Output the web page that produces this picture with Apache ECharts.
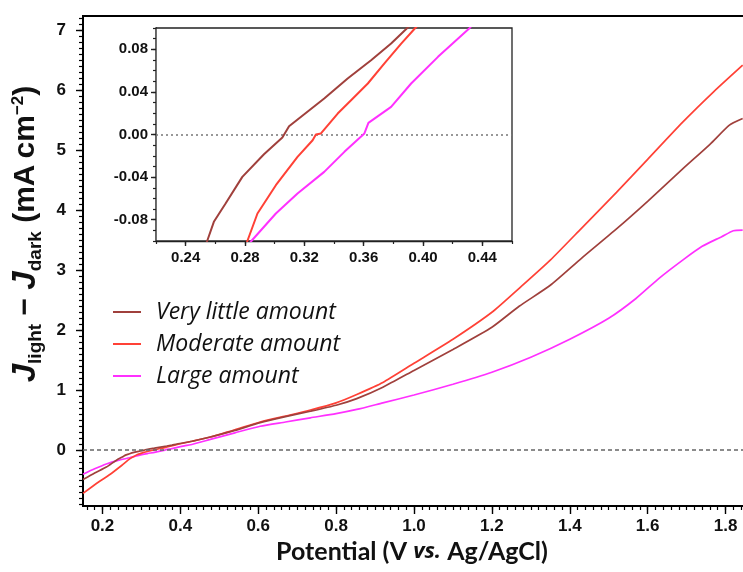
<!DOCTYPE html>
<html>
<head>
<meta charset="utf-8">
<script src="https://cdn.jsdelivr.net/npm/echarts@6/dist/echarts.min.js"></script>
<style>
  html, body { margin: 0; padding: 0; background: #fff; }
  #chart { width: 743px; height: 572px; }
</style>
</head>
<body>
<div id="chart"></div>
<script>
// Photocurrent (J_light - J_dark) vs. potential for three loadings
const seriesNames = ['Very little amount', 'Moderate amount', 'Large amount'];

const potentialVeryLittle = [0.15, 0.18, 0.21, 0.235, 0.2545, 0.259, 0.2669, 0.2782, 0.2928, 0.3052, 0.3097, 0.311, 0.3334, 0.3492, 0.365, 0.3785, 0.3894, 0.43, 0.477, 0.54, 0.605, 0.67, 0.734, 0.80, 0.853, 0.92, 1.0, 1.1, 1.2, 1.27, 1.35, 1.43, 1.52, 1.6, 1.69, 1.76, 1.81, 1.844];
const currentVeryLittle = [-0.49, -0.38, -0.28, -0.17, -0.10, -0.082, -0.0648, -0.0398, -0.0185, -0.0028, 0.0078, 0.008, 0.0338, 0.0526, 0.0698, 0.0854, 0.10, 0.15, 0.22, 0.33, 0.46, 0.56, 0.65, 0.75, 0.86, 1.05, 1.33, 1.68, 2.05, 2.4, 2.75, 3.2, 3.69, 4.15, 4.69, 5.1, 5.42, 5.53];

const potentialModerate = [0.15, 0.19, 0.22, 0.25, 0.27, 0.2816, 0.2884, 0.3008, 0.3154, 0.3256, 0.3278, 0.3312, 0.3425, 0.3515, 0.3628, 0.374, 0.3853, 0.3948, 0.43, 0.477, 0.54, 0.605, 0.67, 0.734, 0.80, 0.853, 0.92, 1.0, 1.1, 1.2, 1.27, 1.35, 1.43, 1.52, 1.6, 1.69, 1.77, 1.844];
const currentModerate = [-0.72, -0.53, -0.40, -0.25, -0.145, -0.10, -0.0742, -0.0476, -0.021, -0.0054, 0.0, 0.001, 0.0197, 0.0322, 0.0479, 0.0667, 0.0854, 0.10, 0.15, 0.22, 0.34, 0.47, 0.57, 0.67, 0.79, 0.93, 1.13, 1.45, 1.85, 2.3, 2.7, 3.17, 3.7, 4.30, 4.85, 5.47, 5.98, 6.42];

const potentialLarge = [0.15, 0.18, 0.21, 0.24, 0.27, 0.2843, 0.3008, 0.3154, 0.3334, 0.347, 0.3605, 0.3632, 0.3785, 0.392, 0.4101, 0.4315, 0.477, 0.54, 0.605, 0.67, 0.734, 0.80, 0.853, 0.92, 1.0, 1.1, 1.2, 1.3, 1.4, 1.5, 1.57, 1.63, 1.69, 1.74, 1.79, 1.82, 1.844];
const currentLarge = [-0.40, -0.31, -0.23, -0.17, -0.125, -0.10, -0.0742, -0.0554, -0.0351, -0.0163, 0.001, 0.0109, 0.0259, 0.0479, 0.0729, 0.10, 0.18, 0.29, 0.40, 0.47, 0.54, 0.61, 0.68, 0.79, 0.92, 1.1, 1.3, 1.55, 1.85, 2.2, 2.53, 2.87, 3.17, 3.4, 3.56, 3.66, 3.67];

// Tick labels
const mainXTicks = [0.2, 0.4, 0.6, 0.8, 1.0, 1.2, 1.4, 1.6, 1.8];
const mainYTicks = [0, 1, 2, 3, 4, 5, 6, 7];
const insetXTicks = [0.24, 0.28, 0.32, 0.36, 0.40, 0.44];
const insetYTicks = [-0.08, -0.04, 0.00, 0.04, 0.08];

const colors = ['#a0403c', '#ff4136', '#ff30ff'];

function range(a, b, div) {
  const out = [];
  for (let i = a; i <= b; i++) out.push(i / div);
  return out;
}
const mainXMinor = range(8, 92, 50);     // every 0.02
const mainYMinor = range(-9, 72, 10);    // every 0.1
const insetXMinor = range(11, 23, 50);   // every 0.02
const insetYMinor = range(-10, 10, 100); // every 0.01

function pairs(xs, ys) { return xs.map((x, i) => [x, ys[i]]); }
const dataSets = [
  pairs(potentialVeryLittle, currentVeryLittle),
  pairs(potentialModerate, currentModerate),
  pairs(potentialLarge, currentLarge)
];

const tickFont = { fontFamily: 'Liberation Sans', fontWeight: 'bold', color: '#111' };

function majorAxis(grid, min, max, ticks, fmt, size, tickLen, margin, lineW, lineColor) {
  return {
    type: 'value', gridIndex: grid, min: min, max: max,
    splitLine: { show: false },
    axisLine: { show: true, onZero: false, lineStyle: { color: lineColor, width: lineW } },
    axisTick: { show: true, inside: false, length: tickLen, customValues: ticks, lineStyle: { color: lineColor, width: 1.4 } },
    axisLabel: Object.assign({ show: true, customValues: ticks, formatter: fmt, fontSize: size, margin: margin }, tickFont)
  };
}
function minorAxis(grid, min, max, ticks, tickLen, lineColor) {
  return {
    type: 'value', gridIndex: grid, min: min, max: max,
    splitLine: { show: false },
    axisLine: { show: false, onZero: false },
    axisTick: { show: true, inside: false, length: tickLen, customValues: ticks, lineStyle: { color: lineColor, width: 1.2 } },
    axisLabel: { show: false }
  };
}

const xAxes = [
  Object.assign(majorAxis(0, 0.15, 1.85, mainXTicks, v => v.toFixed(1), 17, 8, 12, 2, '#000'), { position: 'bottom' }),
  Object.assign(minorAxis(0, 0.15, 1.85, mainXMinor, 4, '#000'), { position: 'bottom' }),
  Object.assign(majorAxis(1, 0.22, 0.46, insetXTicks, v => v.toFixed(2), 15, 5, 9, 1.3, '#222'), { position: 'bottom' }),
  Object.assign(minorAxis(1, 0.22, 0.46, insetXMinor, 3, '#222'), { position: 'bottom' })
];
const yAxes = [
  Object.assign(majorAxis(0, -0.93, 7.24, mainYTicks, v => String(Math.round(v)), 17, 7, 17, 2, '#000'), { position: 'left' }),
  Object.assign(minorAxis(0, -0.93, 7.24, mainYMinor, 4, '#000'), { position: 'left' }),
  Object.assign(majorAxis(1, -0.1, 0.1, insetYTicks, v => v.toFixed(2), 15, 5, 8, 1.3, '#222'), { position: 'left' }),
  Object.assign(minorAxis(1, -0.1, 0.1, insetYMinor, 3, '#222'), { position: 'left' })
];

const series = [];
dataSets.forEach((d, i) => {
  const main = {
    name: seriesNames[i], type: 'line', xAxisIndex: 0, yAxisIndex: 0,
    data: d, showSymbol: false, symbol: 'none', smooth: 0.2,
    lineStyle: { color: colors[i], width: 1.7 }, itemStyle: { color: colors[i] },
    z: 3 - i
  };
  if (i === 0) {
    main.markLine = {
      silent: true, symbol: 'none', animation: false,
      label: { show: false },
      lineStyle: { color: '#666', type: [4, 3], width: 1.5 },
      data: [{ yAxis: 0 }]
    };
  }
  series.push(main);
});
dataSets.forEach((d, i) => {
  const inset = {
    name: seriesNames[i], type: 'line', xAxisIndex: 2, yAxisIndex: 2,
    data: d, showSymbol: false, symbol: 'none', smooth: false, clip: true,
    lineStyle: { color: colors[i], width: 2 }, itemStyle: { color: colors[i] },
    z: 10
  };
  if (i === 0) {
    inset.markLine = {
      silent: true, symbol: 'none', animation: false,
      label: { show: false },
      lineStyle: { color: '#777', type: [2, 3], width: 1.5 },
      data: [{ yAxis: 0 }]
    };
  }
  series.push(inset);
});

const chart = echarts.init(document.getElementById('chart'), null, { renderer: 'canvas' });
chart.setOption({
  animation: false,
  backgroundColor: '#fff',
  grid: [
    { left: 83, top: 16, width: 662, height: 490, show: true, borderColor: '#000', borderWidth: 2, backgroundColor: 'transparent', outerBoundsMode: 'none' },
    { left: 156, top: 28, width: 356, height: 213, show: true, borderColor: '#222', borderWidth: 1.3, backgroundColor: '#fff', z: 5, outerBoundsMode: 'none' }
  ],
  xAxis: xAxes,
  yAxis: yAxes,
  legend: {
    data: seriesNames,
    orient: 'vertical', left: 113, top: 300, padding: 0,
    icon: 'rect', itemWidth: 28, itemHeight: 2, itemGap: 8,
    textStyle: { fontFamily: 'Open Sans', fontStyle: 'italic', fontSize: 23, color: '#111', lineHeight: 24, padding: [0, 0, 0, 10] }
  },
  graphic: [
    {
      type: 'text', x: 412, y: 552,
      style: {
        text: '{b|Potential (V }{i|vs.}{b| Ag/AgCl)}',
        align: 'center', verticalAlign: 'middle',
        rich: {
          b: { fontFamily: 'Lato', fontWeight: 'bold', fontSize: 25, fill: '#111' },
          i: { fontFamily: 'Open Sans', fontWeight: 'bold', fontStyle: 'italic', fontSize: 22, fill: '#111' }
        }
      }
    },
    {
      type: 'text', x: 26, y: 234, rotation: Math.PI / 2,
      style: {
        text: '{j|J}{sub|light}{b| \u2212 }{j|J}{sub|dark}{b| (mA\u2009cm}{sup|\u22122}{b|)}',
        align: 'center', verticalAlign: 'middle',
        rich: {
          j: { fontFamily: 'Liberation Sans', fontWeight: 'bold', fontStyle: 'italic', fontSize: 33, fill: '#111' },
          b: { fontFamily: 'Liberation Sans', fontWeight: 'bold', fontSize: 30, fill: '#111' },
          sub: { fontFamily: 'Liberation Sans', fontWeight: 'bold', fontSize: 19, fill: '#111', padding: [19, 0, 0, 0] },
          sup: { fontFamily: 'Liberation Sans', fontWeight: 'bold', fontSize: 17, fill: '#111', padding: [0, 0, 16, 0] }
        }
      }
    }
  ],
  series: series
});
</script>
</body>
</html>
